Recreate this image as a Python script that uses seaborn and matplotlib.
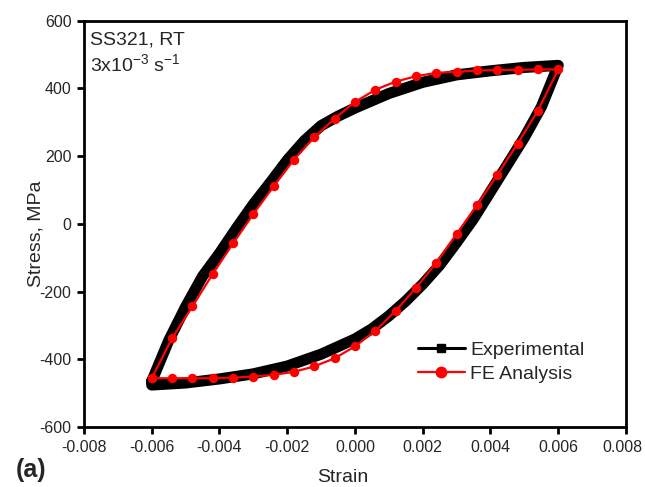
import matplotlib
matplotlib.use("Agg")
import matplotlib.pyplot as plt
import matplotlib.transforms as mtransforms
import seaborn as sns
import pandas as pd
from matplotlib.lines import Line2D

# ---- data ----
# Experimental loop (upper branch: -0.006 -> 0.006, lower branch: 0.006 -> -0.006)
exp_strain = [-0.006, -0.0055, -0.005, -0.0045, -0.004, -0.0035, -0.003, -0.0025, -0.002,
              -0.0015, -0.001, -0.0005, 0.0, 0.001, 0.002, 0.003, 0.004, 0.005, 0.006,
              0.0055, 0.005, 0.0045, 0.004, 0.0035, 0.003, 0.0025, 0.002, 0.0015, 0.001,
              0.0005, 0.0, -0.001, -0.002, -0.003, -0.004, -0.005, -0.006, -0.006]
exp_stress = [-465, -345, -245, -155, -87, -13, 58, 122, 188,
              245, 290, 318, 342, 385, 418, 440, 452, 462, 468,
              345, 255, 175, 95, 15, -55, -122, -178, -228, -272,
              -310, -340, -385, -420, -443, -458, -470, -476, -465]

# FE analysis loop
fe_strain = [-0.006, -0.0054, -0.0048, -0.0042, -0.0036, -0.003, -0.0024, -0.0018, -0.0012,
             -0.0006, 0.0, 0.0006, 0.0012, 0.0018, 0.0024, 0.003, 0.0036, 0.0042, 0.0048,
             0.0054, 0.006,
             0.0054, 0.0048, 0.0042, 0.0036, 0.003, 0.0024, 0.0018, 0.0012, 0.0006, 0.0,
             -0.0006, -0.0012, -0.0018, -0.0024, -0.003, -0.0036, -0.0042, -0.0048, -0.0054,
             -0.006]
fe_stress = [-456, -338, -244, -148, -58, 29, 111, 190, 256,
             311, 360, 396, 420, 436, 446, 449, 453, 454, 455,
             456, 456,
             334, 237, 144, 55, -30, -115, -189, -257, -316, -362,
             -397, -421, -437, -446, -451, -454, -456, -456, -456,
             -456]

x_ticks = [-0.008, -0.006, -0.004, -0.002, 0.000, 0.002, 0.004, 0.006, 0.008]
y_ticks = [-600, -400, -200, 0, 200, 400, 600]

sns.set_style("white")
plt.rcParams['font.family'] = ['Liberation Sans', 'DejaVu Sans']
plt.rcParams['mathtext.fontset'] = 'custom'
plt.rcParams['mathtext.rm'] = 'Liberation Sans'
plt.rcParams['mathtext.it'] = 'Liberation Sans:italic'
plt.rcParams['mathtext.bf'] = 'Liberation Sans:bold'

fig = plt.figure(figsize=(6.45, 4.87), dpi=100)
ax = fig.add_axes([0.1302, 0.1232, 0.8403, 0.8343])

exp_df = pd.DataFrame({"strain": exp_strain, "stress": exp_stress})
fe_df = pd.DataFrame({"strain": fe_strain, "stress": fe_stress})

sns.lineplot(data=exp_df, x="strain", y="stress", sort=False, estimator=None,
             color="black", linewidth=8, ax=ax,
             solid_capstyle="round", solid_joinstyle="round")
sns.lineplot(data=fe_df, x="strain", y="stress", sort=False, estimator=None,
             color="#ff0000", linewidth=1.6, marker="o", markersize=6.8,
             markeredgewidth=0, ax=ax)

ax.set_xlim(-0.008, 0.008)
ax.set_ylim(-600, 600)
ax.set_xticks(x_ticks)
ax.set_xticklabels([f"{v:.3f}" for v in x_ticks])
ax.set_yticks(y_ticks)
ax.set_yticklabels([str(v) for v in y_ticks])

for sp in ax.spines.values():
    sp.set_linewidth(2.0)
    sp.set_color("black")
ax.tick_params(axis="both", which="major", direction="out", length=5, width=2.0,
               labelsize=11.5, color="black", bottom=True, left=True, top=False, right=False,
               pad=4)

# nudge the last x tick label so it stays inside the canvas
last = ax.get_xticklabels()[-1]
last.set_transform(last.get_transform() +
                   mtransforms.ScaledTranslation(-4 / 100, 0, fig.dpi_scale_trans))

ax.set_xlabel("Strain", fontsize=14)
ax.set_ylabel("Stress, MPa", fontsize=14)
ax.xaxis.set_label_coords(0.478, -0.104)
ax.yaxis.set_label_coords(-0.073, 0.475)

ax.text(0.011, 0.973, "SS321, RT", transform=ax.transAxes, fontsize=14,
        va="top", ha="left")
ax.text(0.011, 0.92, r"3x10$^{-3}$ s$^{-1}$", transform=ax.transAxes, fontsize=14,
        va="top", ha="left")

fig.text(0.024, 0.035, "(a)", fontsize=18, fontweight="bold", ha="left", va="center")

handles = [Line2D([0], [0], color="black", lw=2.2, marker="s", markersize=6),
           Line2D([0], [0], color="#ff0000", lw=1.6, marker="o", markersize=7.5)]
ax.legend(handles, ["Experimental", "FE Analysis"], loc="upper left",
          bbox_to_anchor=(0.616, 0.21), frameon=False, fontsize=14,
          handlelength=2.4, handletextpad=0.3, labelspacing=0.3,
          borderpad=0, borderaxespad=0)

fig.savefig("out.png", dpi=100)
